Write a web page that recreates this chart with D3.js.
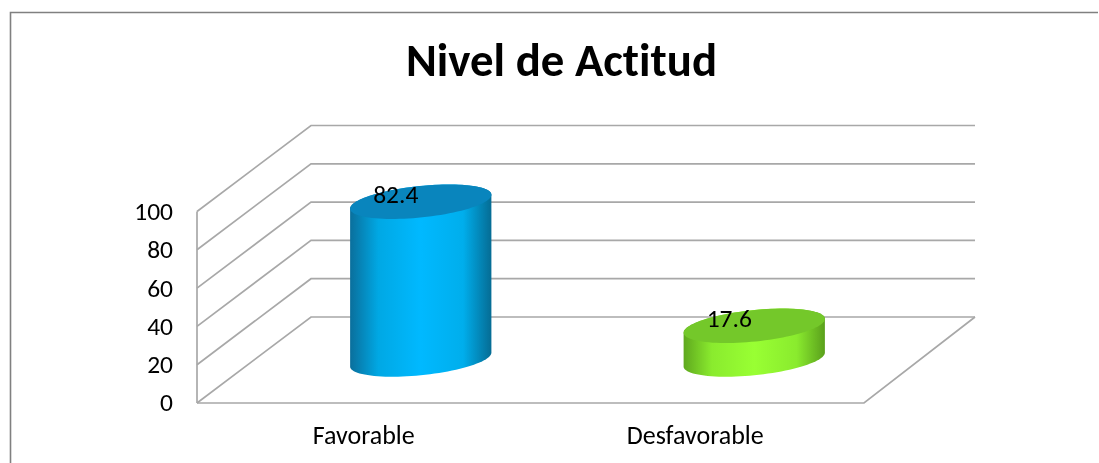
<!DOCTYPE html>
<html><head><meta charset="utf-8">
<script src="https://cdn.jsdelivr.net/npm/d3@7"></script>
<style>html,body{margin:0;padding:0;background:#fff;overflow:hidden}svg{display:block;filter:blur(0.35px)}text{font-family:Carlito,Lato,"Open Sans",sans-serif;fill:#000;font-variant-ligatures:none}</style>
</head><body><script>
const chartTitle = "Nivel de Actitud";
const categories = ["Favorable", "Desfavorable"];
const values = [82.4, 17.6];
const yTicks = [0, 20, 40, 60, 80, 100];
const sideColors = [["#0a6f9c", "#00a8e4", "#00b9ff", "#00aeec", "#056c94"], ["#5fa81e", "#8aeb2e", "#99ff33", "#8aeb2e", "#5aa01c"]];
const topColors = ["#0985bd", "#74c82a"];

const W = 1099, H = 463;
const svg = d3.select("body").append("svg").attr("width", W).attr("height", H);
const defs = svg.append("defs");

const floorLeft = 197, floorRight = 864, floorY = 403, depthX = 114, depthY = 86;
const yScale = d3.scaleLinear().domain([0, 100]).range([0, 191.5]);
const xScale = d3.scaleBand().domain(categories).range([floorLeft, floorRight]);
const grey = "#a8a8a8";

// chart frame
svg.append("path").attr("d", "M10.5 463V12.5H1098").attr("fill", "none").attr("stroke", "#808080").attr("stroke-width", 1.6);

// walls: one polyline per tick
const wall = svg.append("g").attr("fill", "none").attr("stroke", grey).attr("stroke-width", 1.7);
yTicks.forEach(t => {
  const h = yScale(t);
  wall.append("path").attr("d", d3.line()([
    [floorLeft, floorY - h],
    [floorLeft + depthX, floorY - depthY - h],
    [floorRight + depthX - 3, floorY - depthY - h]
  ]));
});
wall.append("path").attr("d", d3.line()([[floorLeft, floorY], [floorLeft, floorY - yScale(100)]]));
wall.append("path").attr("d", d3.line()([[floorLeft, floorY], [floorRight, floorY], [floorRight + depthX - 3, floorY - depthY]]));

// cylinders
const a = 71, b = 15.7, tilt = -5.9;
const rad = tilt * Math.PI / 180;
const t0 = Math.atan2(-b * Math.sin(rad), a * Math.cos(rad));
const rimPoint = (cx, cy, t) => [
  cx + a * Math.cos(t) * Math.cos(rad) - b * Math.sin(t) * Math.sin(rad),
  cy + a * Math.cos(t) * Math.sin(rad) + b * Math.sin(t) * Math.cos(rad)
];
const halfTurn = d3.range(0, 49).map(k => k / 48 * Math.PI);

values.forEach((v, i) => {
  const cx = xScale(categories[i]) + xScale.bandwidth() / 2 + depthX / 2;
  const baseY = floorY - depthY / 2 - 0.5;
  const topY = baseY - yScale(v);
  const id = "side" + i;
  const g = defs.append("linearGradient").attr("id", id);
  sideColors[i].forEach((c, k) => g.append("stop")
    .attr("offset", [0, 0.2, 0.5, 0.8, 1][k]).attr("stop-color", c));
  const outline = halfTurn.map(d => rimPoint(cx, baseY, t0 + d))
    .concat(halfTurn.map(d => rimPoint(cx, topY, t0 + Math.PI + d)));
  svg.append("path").attr("d", d3.line()(outline) + "Z").attr("fill", `url(#${id})`);
  svg.append("path").attr("d", d3.line()(d3.range(0, 97).map(k => rimPoint(cx, topY, k / 96 * 2 * Math.PI))) + "Z")
    .attr("fill", topColors[i]);
  svg.append("text").attr("x", cx - 25).attr("y", topY - 8)
    .attr("dy", "0.35em").attr("text-anchor", "middle").attr("font-size", 25.5).text(v);
});

// labels
svg.selectAll("text.t").data(yTicks).join("text").attr("class", "t")
  .attr("x", 173).attr("y", d => floorY - yScale(d)).attr("dy", "0.33em")
  .attr("text-anchor", "end").attr("font-size", 25.5).text(d => d);
svg.selectAll("text.c").data(categories).join("text").attr("class", "c")
  .attr("x", (d, i) => xScale(d) + xScale.bandwidth() / 2 - i * 2).attr("y", 444)
  .attr("text-anchor", "middle").attr("font-size", 26).text(d => d);
svg.append("text").attr("x", 561.5).attr("y", 76).attr("text-anchor", "middle")
  .attr("font-size", 46.8).attr("font-weight", "bold").text(chartTitle);
</script></body></html>
